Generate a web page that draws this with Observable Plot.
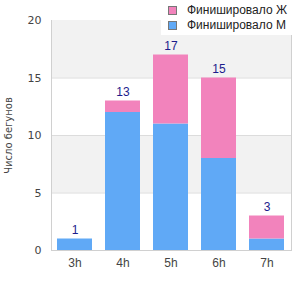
<!DOCTYPE html>
<html><head><meta charset="utf-8">
<script src="https://cdn.jsdelivr.net/npm/d3@7"></script>
<script src="https://cdn.jsdelivr.net/npm/@observablehq/plot@0.6"></script>
<style>
body{margin:0;background:#fff;font-family:"Liberation Sans",Arial,sans-serif;}
#wrap{position:relative;width:300px;height:300px;}
#legend{position:absolute;left:161px;top:0;width:139px;height:35px;background:#fff;font-size:12px;color:#222;font-family:"Liberation Sans",Arial,sans-serif;}
.item{position:absolute;left:7px;display:flex;align-items:center;white-space:nowrap;}
.sw{width:7px;height:7px;border:1px solid #777;margin-right:10px;}
</style></head>
<body><div id="wrap"><div id="legend"></div></div>
<script>
const categories = ["3h","4h","5h","6h","7h"];
const men = [1,12,11,8,1];
const women = [0,1,6,7,2];
const seriesNames = ["Финишировало М","Финишировало Ж"];
const colors = ["#60a9f6","#f283bc"];
const yTicks = [0,5,10,15,20];
const yLabel = "Число бегунов";

const rows = [];
categories.forEach((c,i)=>rows.push({cat:c,series:seriesNames[0],v:men[i]}));
categories.forEach((c,i)=>rows.push({cat:c,series:seriesNames[1],v:women[i]}));
const totals = categories.map((c,i)=>({cat:c,t:men[i]+women[i]}));
const bands = [{a:5,b:10},{a:15,b:20}];

const chart = Plot.plot({
  width:300,height:300,
  marginLeft:51,marginRight:9,marginTop:20,marginBottom:50,
  style:{fontFamily:"Liberation Sans, Arial, sans-serif",fontSize:"12px",color:"#444",background:"transparent"},
  x:{domain:categories,paddingInner:0.27,paddingOuter:0.135,label:null},
  y:{domain:[0,20],ticks:yTicks,label:yLabel},
  color:{domain:seriesNames,range:colors},
  marks:[
    Plot.rectY(bands,{y1:"a",y2:"b",fill:"#f2f2f2"}),
    Plot.ruleY([5,10,15],{stroke:"#dcdcdc"}),
    Plot.frame({anchor:"left",stroke:"#d0d0d0"}),
    Plot.frame({anchor:"right",stroke:"#d0d0d0"}),
    Plot.frame({anchor:"bottom",stroke:"#d0d0d0"}),
    Plot.barY(rows,{x:"cat",y:"v",fill:"series",order:seriesNames}),
    Plot.text(totals,{x:"cat",y:"t",text:d=>String(d.t),dy:-9,fill:"#1c1c8c",fontSize:12}),
    Plot.axisX({tickSize:0,tickPadding:8,fontSize:12,label:null}),
    Plot.axisY({ticks:yTicks,tickSize:0,tickPadding:10,fontSize:11,fontFamily:"DejaVu Sans",label:null}),
    Plot.axisY({ticks:[],tickSize:0,fontSize:10,fontFamily:"DejaVu Sans",label:yLabel,labelAnchor:"center",labelArrow:"none",labelOffset:47})
  ]
});
document.getElementById("wrap").prepend(chart);
const leg = document.getElementById("legend");
[[seriesNames[1],colors[1],10],[seriesNames[0],colors[0],25]].forEach(([n,c,y])=>{
  const d=document.createElement("div");d.className="item";d.style.top=(y-7)+"px";
  d.innerHTML=`<span class="sw" style="background:${c}"></span><span>${n}</span>`;
  leg.appendChild(d);
});
</script></body></html>
